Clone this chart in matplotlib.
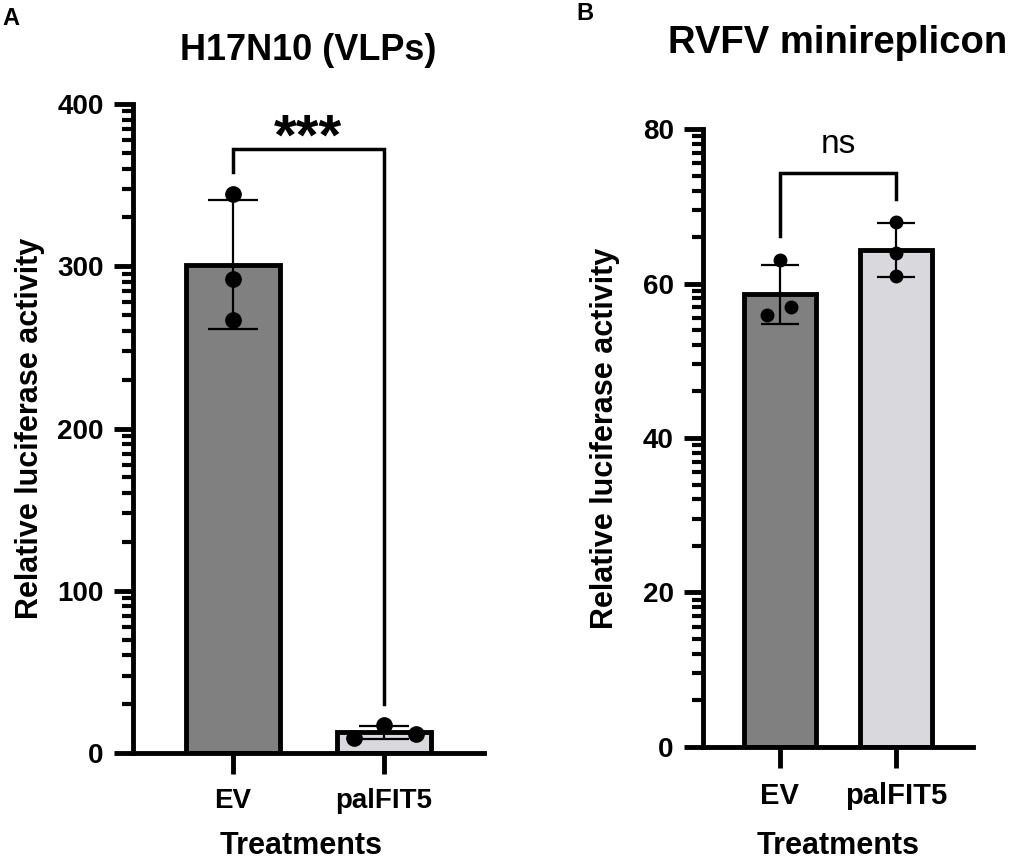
import numpy as np
import matplotlib
matplotlib.use("Agg")
import matplotlib.pyplot as plt
from matplotlib.ticker import FixedLocator

plt.rcParams['font.family'] = ['Liberation Sans', 'DejaVu Sans']
plt.rcParams['font.weight'] = 'bold'
plt.rcParams['axes.titleweight'] = 'bold'
plt.rcParams['axes.labelweight'] = 'bold'

# --- data ---
groups = ["EV", "palFIT5"]
bar_colors = ["#808080", "#d8d8dd"]

# panel A: H17N10 (VLPs), three replicates per group
h17_ev = [344.4, 292.0, 266.8]
h17_pal = [9.1, 17.3, 11.7]
# panel B: RVFV minireplicon
rvfv_ev = [63.0, 55.9, 56.9]
rvfv_pal = [68.0, 63.9, 61.0]

# significance brackets: left leg bottom, top, right leg bottom
h17_bracket = [358, 372, 30]
rvfv_bracket = [66.1, 74.3, 70.9]
h17_sig = "***"
rvfv_sig = "ns"

# horizontal scatter offsets for the dots (layout only)
h17_offsets = [[0, 0, 0], [-0.2, 0, 0.21]]
rvfv_offsets = [[0, -0.11, 0.1], [0, 0, 0]]


def minor_log_ticks(top, step):
    # GraphPad style: dense minor ticks just below each major tick
    pos = []
    for base in np.arange(0, top, step):
        for k in range(2, 10):
            pos.append(base + step * np.log10(k))
    return pos


def draw_panel(ax, reps, offsets, ymax, ystep, capsize, ms,
               ytick_size, xtick_size):
    x = np.arange(len(groups))
    means = [np.mean(r) for r in reps]
    sds = [np.std(r, ddof=1) for r in reps]
    ax.bar(x, means, width=0.62, color=bar_colors, edgecolor="black",
           linewidth=3.5, zorder=2)
    ax.errorbar(x, means, yerr=sds, fmt="none", ecolor="black",
                elinewidth=1.6, capsize=capsize, capthick=1.6, zorder=3)
    for i, r in enumerate(reps):
        ax.plot(x[i] + np.array(offsets[i]), r, "o", color="black", ms=ms,
                zorder=4, clip_on=False)

    ax.set_xlim(-0.66, 1.66)
    ax.set_ylim(0, ymax)
    ax.set_xticks(x)
    ax.set_xticklabels(groups)
    ax.set_yticks(np.arange(0, ymax + 1, ystep))
    ax.yaxis.set_minor_locator(FixedLocator(minor_log_ticks(ymax, ystep)))
    for s in ["top", "right"]:
        ax.spines[s].set_visible(False)
    for s in ["left", "bottom"]:
        ax.spines[s].set_linewidth(3.5)
        ax.spines[s].set_capstyle("projecting")
    ax.tick_params(axis="y", which="major", length=14, width=3.5,
                   labelsize=ytick_size, pad=7)
    ax.tick_params(axis="y", which="minor", length=8, width=3)
    ax.tick_params(axis="x", which="major", length=15, width=3.5,
                   labelsize=xtick_size, pad=10)
    ax.set_ylabel("Relative luciferase activity", fontsize=22)
    ax.set_xlabel("Treatments", fontsize=22)


fig = plt.figure(figsize=(10.12, 8.59), dpi=100)
axA = fig.add_axes([0.1314, 0.1234, 0.3468, 0.7555])
axB = fig.add_axes([0.6947, 0.1304, 0.2668, 0.7194])

draw_panel(axA, [h17_ev, h17_pal], h17_offsets, 400, 100, 18, 11, 20, 20)
draw_panel(axB, [rvfv_ev, rvfv_pal], rvfv_offsets, 80, 20, 14, 9, 20, 21)

axA.yaxis.set_label_coords(-0.251, 0.5)
axA.xaxis.set_label_coords(0.48, -0.12)
axB.yaxis.set_label_coords(-0.307, 0.5)
axB.xaxis.set_label_coords(0.5, -0.136)

axA.set_title("H17N10 (VLPs)", fontsize=26, pad=32)
axB.set_title("RVFV minireplicon", fontsize=27.5, pad=55)

# significance brackets
b = h17_bracket
axA.plot([0, 0, 1, 1], [b[0], b[1], b[1], b[2]], color="black", lw=2.5,
         solid_joinstyle="miter", zorder=5)
axA.text(0.5, 369, h17_sig, ha="center", va="baseline", fontsize=42)
b = rvfv_bracket
axB.plot([0, 0, 1, 1], [b[0], b[1], b[1], b[2]], color="black", lw=2.5,
         solid_joinstyle="miter", zorder=5, clip_on=False)
axB.text(0.5, 76.9, rvfv_sig, ha="center", va="baseline", fontsize=24,
         fontweight="normal")

fig.text(0.002, 0.979, "A", fontsize=17, va="center", ha="left")
fig.text(0.570, 0.984, "B", fontsize=17, va="center", ha="left")

fig.savefig("out.png", dpi=100)
